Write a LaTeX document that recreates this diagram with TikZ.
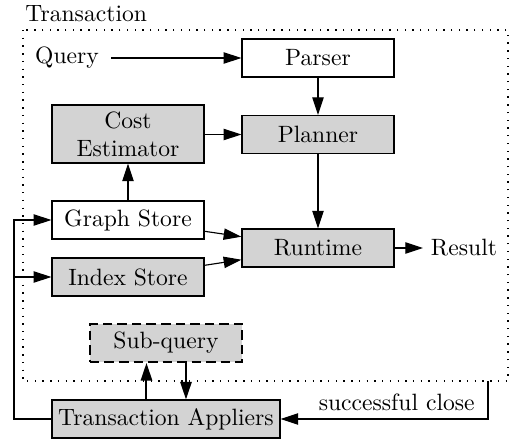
\documentclass[tikz,border=0pt]{standalone}
\usetikzlibrary{arrows.meta}
\definecolor{boxgray}{RGB}{211,211,211}
\begin{document}
\begin{tikzpicture}[x=0.4405pt,y=-0.4405pt,
  every node/.style={font=\fontsize{10.4pt}{12.5pt}\selectfont},
  box/.style={draw, line width=0.5pt, minimum width=67pt, minimum height=16.7pt,
              inner sep=0pt, align=center},
  shaded/.style={box, fill=boxgray},
  link/.style={line width=0.5pt, -{Triangle[length=7.8pt,width=5pt]}},
  boldlink/.style={line width=0.9pt, -{Triangle[length=7.8pt,width=5pt]}},
  frame/.style={line width=0.6pt, dash pattern=on 0.6pt off 2.8pt}]
  \useasboundingbox (0,0) rectangle (511,439);

  % transaction boundary
  \node[anchor=base west, inner sep=0pt] (title) at (25,22) {Transaction};
  \draw[frame] (23,30) rectangle (508,381);

  % processing pipeline
  \node (query) at (67,58) {Query};
  \node[box] (parser) at (318,58) {Parser};
  \node[shaded] (planner) at (318,134.5) {Planner};
  \node[shaded, minimum height=25.5pt] (cost) at (128,134) {Cost\\Estimator};
  \node[box] (graph) at (128,220) {Graph Store};
  \node[shaded] (index) at (128,277) {Index Store};
  \node[shaded] (runtime) at (318,248) {Runtime};
  \node (result) at (464,248) {Result};
  \node[shaded, line width=0.9pt, dash pattern=on 4.2pt off 2.2pt] (subq) at (166,343) {Sub-query};
  \node[shaded, minimum width=100.4pt] (appliers) at (166,419) {Transaction Appliers};

  \coordinate (branch) at (14,277);
  \coordinate (closept) at (488,381);

  \draw[link, shorten <=2pt] (query.east) -- (parser.west);
  \draw[link] (parser) -- (planner);
  \draw[link] (cost.east |- planner.west) -- (planner.west);
  \draw[link] (graph) -- (cost);
  \draw[link] (planner) -- (runtime);
  \draw[link] (graph) -- (runtime);
  \draw[link] (index) -- (runtime);
  \draw[link] (runtime) -- (result);

  % feedback from the appliers into the stores
  \draw[link] (appliers.west) -| (branch) |- (graph.west);
  \draw[link] (branch) -- (index.west);

  % sub-query exchange
  \draw[boldlink] ([xshift=-8.6pt]appliers.north) -- ([xshift=-8.6pt]subq.south);
  \draw[boldlink] ([xshift=8.8pt]subq.south) -- ([xshift=8.8pt]appliers.north);

  % commit path
  \draw[link] (closept) |- (appliers.east) node[pos=0.72, above] {successful close};
\end{tikzpicture}
\end{document}
